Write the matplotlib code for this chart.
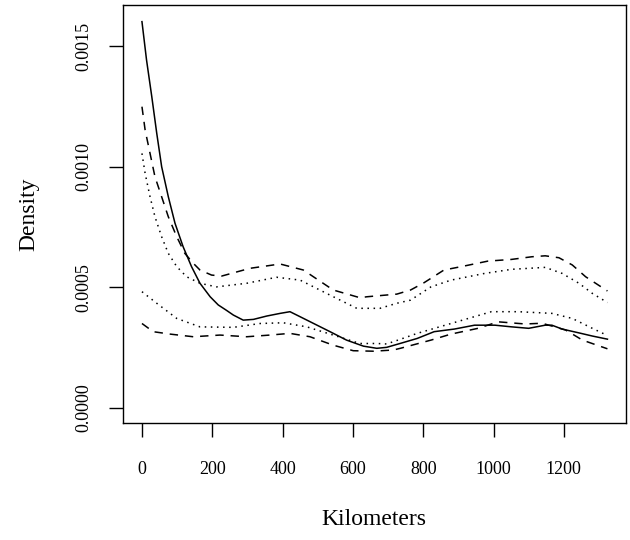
import matplotlib
matplotlib.use("Agg")
import matplotlib.pyplot as plt

plt.rcParams["font.family"] = ["Liberation Serif", "DejaVu Serif"]

# kernel density estimate (solid) with two envelopes (dashed / dotted)
est_km = [0, 13, 28, 42, 56, 75, 94, 117, 141, 165, 194, 217, 240, 260, 288,
          317, 355, 393, 421, 450, 487, 535, 582, 630, 668, 696, 734, 783,
          831, 889, 946, 1004, 1052, 1100, 1147, 1166, 1195, 1243, 1281, 1324]
est = [0.001603, 0.001444, 0.001291, 0.00114, 0.001001, 0.000876, 0.000766,
       0.000669, 0.000586, 0.000517, 0.000461, 0.000427, 0.000405, 0.000385,
       0.000364, 0.000367, 0.000381, 0.000392, 0.000399, 0.000378, 0.000351,
       0.000316, 0.000281, 0.000256, 0.000247, 0.000251, 0.000267, 0.000288,
       0.000316, 0.000327, 0.000343, 0.000343, 0.000336, 0.00033, 0.000343,
       0.000343, 0.000327, 0.000311, 0.000298, 0.000285]

hi_dash_km = [0, 9, 23, 37, 56, 75, 99, 122, 146, 165, 198, 227, 307, 393,
              459, 544, 620, 640, 725, 764, 802, 859, 908, 984, 1051, 1109,
              1147, 1186, 1224, 1262, 1324]
hi_dash = [0.00125, 0.001153, 0.001056, 0.000959, 0.000876, 0.000793,
           0.00071, 0.000641, 0.0006, 0.000572, 0.000551, 0.000547,
           0.000579, 0.000597, 0.000572, 0.000489, 0.000457, 0.000461,
           0.000472, 0.000489, 0.000519, 0.000572, 0.000586, 0.000609,
           0.000616, 0.000627, 0.000631, 0.000623, 0.000593, 0.000544,
           0.000485]

hi_dot_km = [0, 9, 23, 37, 56, 75, 99, 127, 165, 212, 298, 383, 450, 525,
             611, 677, 725, 764, 822, 879, 975, 1052, 1147, 1195, 1243, 1281,
             1324]
hi_dot = [0.001056, 0.000973, 0.000876, 0.000793, 0.00071, 0.000641,
          0.000586, 0.000544, 0.000517, 0.000502, 0.000517, 0.000542,
          0.00053, 0.000475, 0.000413, 0.000413, 0.000434, 0.000447,
          0.000502, 0.00053, 0.000558, 0.000575, 0.000583, 0.000558,
          0.000517, 0.000475, 0.000437]

lo_dot_km = [0, 42, 99, 165, 260, 336, 402, 469, 544, 620, 669, 696, 734,
             783, 879, 994, 1071, 1166, 1224, 1281, 1324]
lo_dot = [0.000482, 0.000434, 0.000371, 0.000336, 0.000334, 0.00035,
          0.000353, 0.000336, 0.000302, 0.000267, 0.000267, 0.000265,
          0.000284, 0.000309, 0.00035, 0.000399, 0.000399, 0.000392,
          0.000371, 0.00033, 0.0003]

lo_dash_km = [0, 32, 80, 146, 222, 298, 364, 421, 478, 544, 601, 658, 715,
              735, 822, 879, 956, 1013, 1090, 1138, 1205, 1253, 1324]
lo_dash = [0.00035, 0.000316, 0.000306, 0.000295, 0.000302, 0.000295,
           0.000302, 0.000309, 0.000295, 0.00026, 0.000237, 0.000235,
           0.00024, 0.000247, 0.000281, 0.000306, 0.00033, 0.000357,
           0.000348, 0.000351, 0.000323, 0.000281, 0.000245]

x_ticks = [0, 200, 400, 600, 800, 1000, 1200]
y_ticks = [0.0, 0.0005, 0.0010, 0.0015]

fig = plt.figure(figsize=(6.3, 5.4), dpi=100)
ax = fig.add_axes([0.1952, 0.2161, 0.798, 0.7746])

dashed = (0, (5.5, 4.5))
dotted = (0, (1, 3))
ax.plot(est_km, est, color="black", lw=1.1)
ax.plot(hi_dash_km, hi_dash, color="black", lw=1.1, linestyle=dashed)
ax.plot(lo_dash_km, lo_dash, color="black", lw=1.1, linestyle=dashed)
ax.plot(hi_dot_km, hi_dot, color="black", lw=1.1, linestyle=dotted)
ax.plot(lo_dot_km, lo_dot, color="black", lw=1.1, linestyle=dotted)

ax.set_xlim(-54, 1376)
ax.set_ylim(-0.0000643, 0.001672)

ax.set_xticks(x_ticks)
ax.set_xticklabels([str(t) for t in x_ticks])
ax.set_yticks(y_ticks)
ax.set_yticklabels(["%.4f" % t for t in y_ticks], rotation=90, va="center")
ax.tick_params(axis="both", direction="out", length=10, width=1.0,
               labelsize=13, color="black")
ax.tick_params(axis="x", pad=17)
ax.tick_params(axis="y", pad=12)

for sp in ax.spines.values():
    sp.set_linewidth(1.0)

ax.set_xlabel("Kilometers", fontsize=17)
ax.set_ylabel("Density", fontsize=17)
ax.xaxis.set_label_coords(0.5, -0.204)
ax.yaxis.set_label_coords(-0.167, 0.5)

fig.savefig("out.png", dpi=100)
